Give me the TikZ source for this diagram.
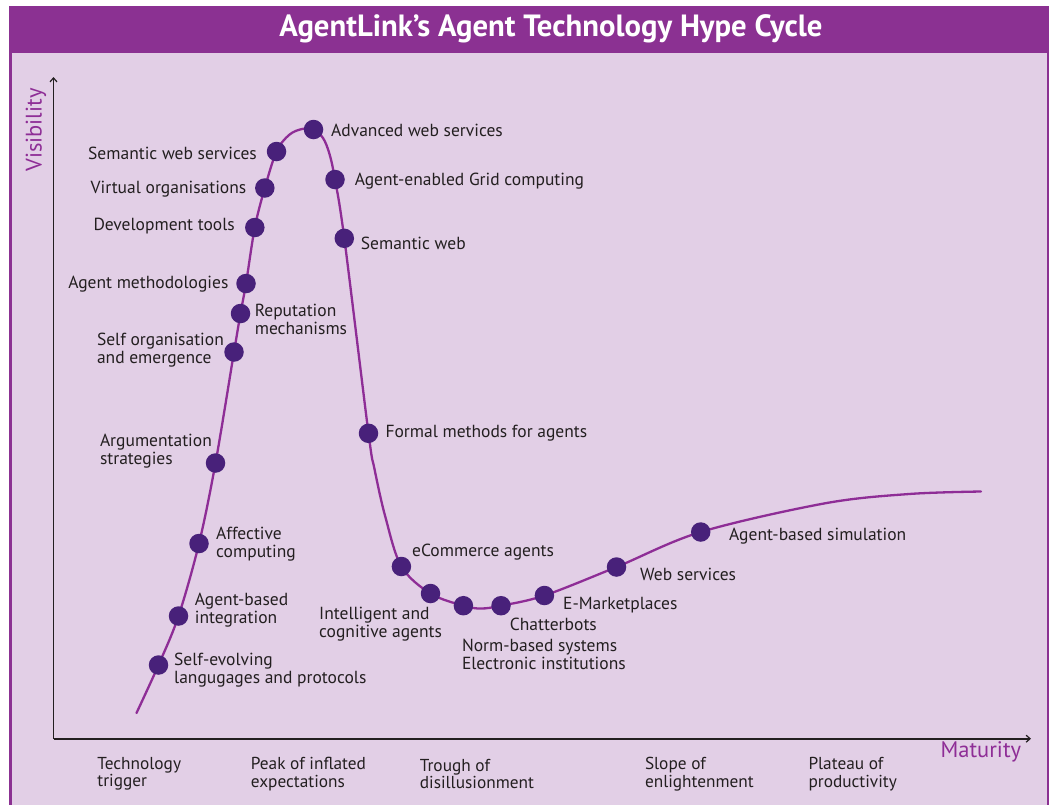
\documentclass[tikz,border=0pt]{standalone}
\usepackage{fontspec}
\setmainfont{PT Sans}
\usetikzlibrary{arrows.meta}
\definecolor{barpurple}{HTML}{8B3192}
\definecolor{bgpurple}{HTML}{E2CFE6}
\definecolor{dotpurple}{HTML}{48217A}
\definecolor{curvepurple}{HTML}{8E2D96}
\definecolor{txt}{HTML}{231F20}
\begin{document}
\begin{tikzpicture}[x=1pt,y=-1pt,
  dotnode/.style={circle,fill=dotpurple,minimum size=19.5pt,inner sep=0pt},
  lbl/.style={font=\fontsize{17.5}{18}\selectfont,text=txt,inner sep=0pt,align=left,yshift=-1.5pt},
  lblw/.style={lbl,anchor=west},
  lble/.style={lbl,anchor=east},
  phase/.style={font=\fontsize{17.3}{17.5}\selectfont,text=txt,inner sep=0pt,align=left,anchor=west,yshift=-1.5pt},
  axistitle/.style={font=\fontsize{22.5}{24}\selectfont,text=curvepurple,inner sep=0pt},
  axisline/.style={line width=1.8pt,txt,-{Straight Barb[length=4pt,width=7pt,line width=1.2pt]}},
  hype/.style={curvepurple,line width=2.3pt,line cap=round}]
\useasboundingbox (0,0) rectangle (1051,804);
\fill[white] (0,0) rectangle (1051,804);
% frame
\fill[bgpurple] (10.7,6) rectangle (1047.9,830);
\draw[barpurple,line width=2.8pt] (10.7,6) -- (10.7,830);
\draw[barpurple,line width=2.8pt] (1047.9,6) -- (1047.9,830);
\fill[barpurple] (9.3,6) rectangle (1049.3,53);
\node[font=\bfseries\fontsize{30.7}{32}\selectfont,text=white,inner sep=0pt] (title) at (551,28.5) {AgentLink’s Agent Technology Hype Cycle};
% axes
\coordinate (O) at (53.5,738.7);
\coordinate (ytop) at (53.5,77);
\coordinate (xend) at (1031,738.7);
\draw[axisline] (O) -- (ytop);
\draw[axisline] (O) -- (xend);
\node[axistitle,rotate=90] (vis) at (36,130) {Visibility};
\node[axistitle,anchor=west] (mat) at (940.4,752) {Maturity};
% phases
\node[phase] (ph1) at (97.2,772.5) {Technology\\trigger};
\node[phase] (ph2) at (250.7,772.5) {Peak of inflated\\expectations};
\node[phase] (ph3) at (419.6,772.5) {Trough of\\disillusionment};
\node[phase] (ph4) at (644.8,772.5) {Slope of\\enlightenment};
\node[phase] (ph5) at (808.3,772.5) {Plateau of\\productivity};
% curve points
\coordinate (c0) at (136.5,713);
\coordinate (p1) at (158.5,665);
\coordinate (p2) at (178.5,616);
\coordinate (p3) at (199,543.5);
\coordinate (p4) at (215.5,463);
\coordinate (p5) at (234,352);
\coordinate (p6) at (240.5,313.5);
\coordinate (p7) at (246,283.5);
\coordinate (p8) at (254.8,227.5);
\coordinate (p9) at (264.8,188);
\coordinate (p10) at (276.5,151.5);
\coordinate (q1) at (289,135);
\coordinate (q2) at (302,129);
\coordinate (p11) at (313.5,129.5);
\coordinate (q3) at (323,138);
\coordinate (q4) at (329.5,154);
\coordinate (p12) at (335,179.5);
\coordinate (p13) at (344.3,238.3);
\coordinate (p14) at (368.5,433.3);
\coordinate (q5) at (374.5,469);
\coordinate (q6) at (385.3,516.7);
\coordinate (p15) at (401.4,566.5);
\coordinate (p16) at (430.5,593.5);
\coordinate (p17) at (463.4,605.7);
\coordinate (q7) at (481,608.5);
\coordinate (p18) at (501,605.7);
\coordinate (p19) at (544.4,595.5);
\coordinate (p20) at (616.5,567);
\coordinate (p21) at (700.7,532);
\coordinate (q8) at (825,503.3);
\coordinate (q9) at (909,494);
\coordinate (cend) at (981,491.5);
\draw[hype] plot[smooth,tension=0.55] coordinates {(c0) (p1) (p2) (p3) (p4) (p5) (p6) (p7) (p8) (p9) (p10) (q1) (q2) (p11) (q3) (q4) (p12) (p13) (p14) (q5) (q6) (p15) (p16) (p17) (q7) (p18) (p19) (p20) (p21) (q8) (q9) (cend)};
% dots
\foreach \i in {1,...,21} {\node[dotnode] (d\i) at (p\i) {};}
% labels
\node[lblw] (l1) at (174,669) {Self-evolving\\langugages and protocols};
\node[lblw] (l2) at (194.7,609) {Agent-based\\integration};
\node[lblw] (l3) at (216,542.5) {Affective\\computing};
\node[lblw] (l4) at (99.8,449.5) {Argumentation\\strategies};
\node[lblw] (l5) at (96.8,348.5) {Self organisation\\and emergence};
\node[lblw] (l6) at (254.6,317.5) {Reputation\\mechanisms};
\node[lble] (l7) at (228.6,282.5) {Agent methodologies};
\node[lble] (l8) at (235,224.5) {Development tools};
\node[lble] (l9) at (246.5,187.5) {Virtual organisations};
\node[lble] (l10) at (257,151.5) {Semantic web services};
\node[lblw] (l11) at (331,129) {Advanced web services};
\node[lblw] (l12) at (354.6,180) {Agent-enabled Grid computing};
\node[lblw] (l13) at (360.7,242) {Semantic web};
\node[lblw] (l14) at (385.3,431.5) {Formal methods for agents};
\node[lblw] (l15) at (412,550.5) {eCommerce agents};
\node[lblw] (l16) at (319,623) {Intelligent and\\cognitive agents};
\node[lblw] (l17) at (461.8,653) {Norm-based systems\\Electronic institutions};
\node[lblw] (l18) at (509.7,623.3) {Chatterbots};
\node[lblw] (l19) at (563,603.3) {E-Marketplaces};
\node[lblw] (l20) at (640,573.3) {Web services};
\node[lblw] (l21) at (729,535) {Agent-based simulation};
\end{tikzpicture}
\end{document}
